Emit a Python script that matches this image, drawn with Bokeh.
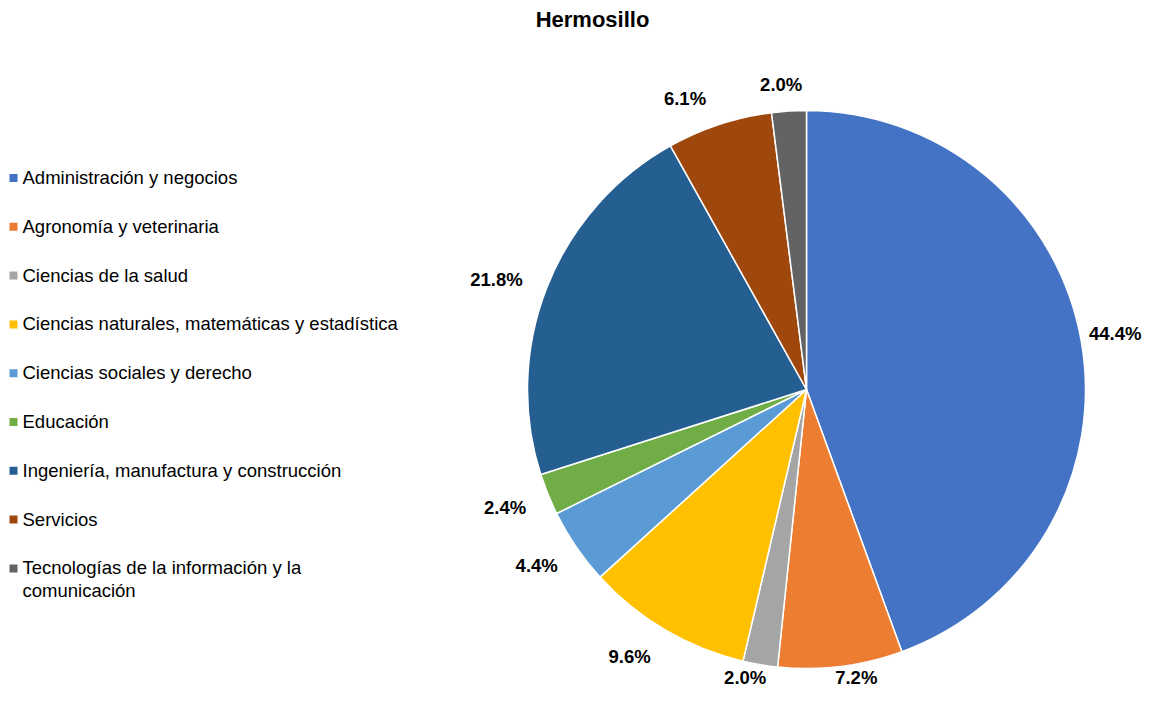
import math
import textwrap
from bokeh.plotting import figure
from bokeh.models import Range1d, ColumnDataSource
from bokeh.core.properties import value
from bokeh.embed import file_html
from bokeh.resources import INLINE

# ---- data ----
title = "Hermosillo"
categories = [
    "Administración y negocios",
    "Agronomía y veterinaria",
    "Ciencias de la salud",
    "Ciencias naturales, matemáticas y estadística",
    "Ciencias sociales y derecho",
    "Educación",
    "Ingeniería, manufactura y construcción",
    "Servicios",
    "Tecnologías de la información y la comunicación",
]
shares = [44.4, 7.2, 2.0, 9.6, 4.4, 2.4, 21.8, 6.1, 2.0]
colors = ["#4472C4", "#ED7D31", "#A5A5A5", "#FFC000", "#5B9BD5",
          "#70AD47", "#255E91", "#9E480E", "#636363"]

# ---- layout (pixel style coordinates: x right, y = -pixel row) ----
W, H = 1144, 690
CX, CY, R = 806, -389, 279
FONT = "Liberation Sans"
LBL_SIZE = 18.5
LEG_X_SQ, LEG_X_TXT = 13, 22
LEG_Y0, LEG_STEP = 177.5, 48.8
LBL_MIN_Y = -677  # keep bottom labels inside the canvas
# small "best fit" nudges of the outside labels (screen px, dx right / dy down)
LBL_NUDGE = [(0, 0), (12, 0), (-10, 0), (-17, -5), (-6, -4),
             (-5, -2), (-8, 9), (-24, 5), (-6, 2)]

p = figure(width=W, height=H, output_backend="svg", toolbar_location=None,
           x_range=Range1d(0, W), y_range=Range1d(-H, 0),
           min_border=0, outline_line_color=None)
p.axis.visible = False
p.grid.visible = False
p.background_fill_color = "white"
p.border_fill_color = "white"

total = sum(shares)
starts, ends, mids = [], [], []
acc = 0.0
for s in shares:
    a0 = math.pi / 2 - acc / total * 2 * math.pi
    acc += s
    a1 = math.pi / 2 - acc / total * 2 * math.pi
    starts.append(a0)
    ends.append(a1)
    mids.append((a0 + a1) / 2)

src = ColumnDataSource(dict(start=starts, end=ends, color=colors, cat=categories))
p.wedge(x=CX, y=CY, radius=R, start_angle="start", end_angle="end",
        direction="clock", fill_color="color", line_color="white",
        line_width=1.5, source=src)

# data labels outside the pie
lx, ly, lt = [], [], []
for s, m, (nx, ny) in zip(shares, mids, LBL_NUDGE):
    txt = f"{s:.1f}%"
    hw = 5.25 * len(txt)
    hh = 9
    dx, dy = math.cos(m), math.sin(m)
    d = R + 18 + hw * abs(dx) + hh * abs(dy)
    x = CX + d * dx + nx
    y = CY + d * dy - ny
    lx.append(min(x, W - hw - 3))
    ly.append(max(y, LBL_MIN_Y))
    lt.append(txt)
p.text(x=lx, y=ly, text=lt, text_font=value(FONT), text_font_size=f"{LBL_SIZE}px",
       text_font_style="bold", text_align="center", text_baseline="middle",
       text_color="#000000")

# title
p.text(x=[592], y=[-19], text=[title], text_font=value(FONT), text_font_size="22px",
       text_font_style="bold", text_align="center", text_baseline="middle",
       text_color="#000000")

# legend
leg_y = [-(LEG_Y0 + i * LEG_STEP) for i in range(len(categories))]
p.rect(x=[LEG_X_SQ] * len(categories), y=leg_y, width=8, height=8,
       width_units="screen", height_units="screen", fill_color=colors, line_color=None)
leg_txt = [textwrap.fill(c, 45) for c in categories]
p.text(x=[LEG_X_TXT] * len(categories), y=[y + 11 for y in leg_y], text=leg_txt,
       text_font=value(FONT), text_font_size=f"{LBL_SIZE}px", text_align="left",
       text_baseline="top", text_color="#000000", text_line_height=1.08)

open("out.html", "w").write(file_html(p, INLINE))
